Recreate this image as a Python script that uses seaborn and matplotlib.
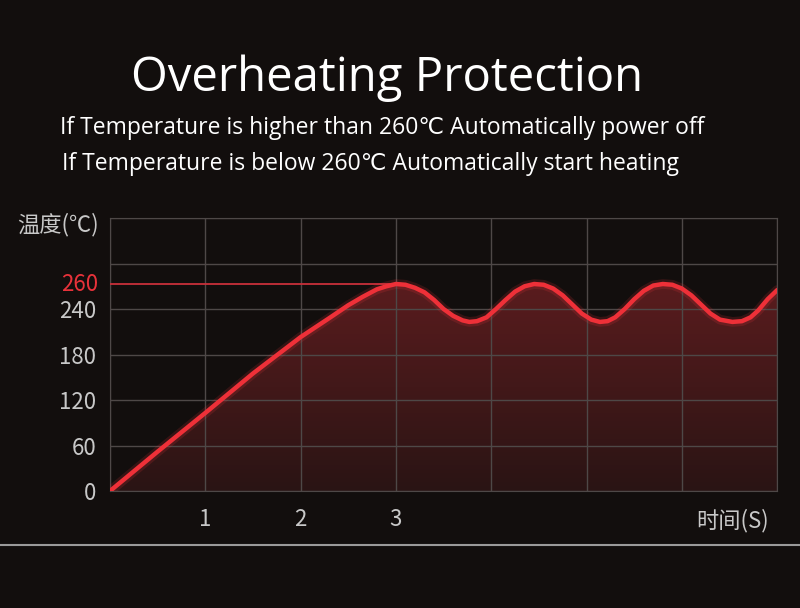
import numpy as np
import pandas as pd
import matplotlib
matplotlib.use("Agg")
import matplotlib.pyplot as plt
import seaborn as sns
from matplotlib.patches import Polygon
from matplotlib.colors import LinearSegmentedColormap

sns.set_style("dark")
plt.rcParams['font.family'] = ['Noto Sans CJK SC', 'DejaVu Sans']

time_s = [0, 0.5, 1, 1.5, 2, 2.3, 2.5, 2.65, 2.8, 2.9, 3.0, 3.1, 3.2, 3.3, 3.4, 3.5, 3.6, 3.7, 3.77, 3.85,
          3.95, 4.05, 4.15, 4.25, 4.35, 4.45, 4.55, 4.65, 4.75, 4.85, 4.95, 5.05, 5.14, 5.22, 5.3, 5.4,
          5.5, 5.6, 5.7, 5.8, 5.9, 6.0, 6.1, 6.2, 6.3, 6.4, 6.53, 6.63, 6.72, 6.8, 6.9, 7.0]
temp = [0, 52, 103, 155, 203, 228, 245, 256, 266, 270, 273, 272, 268, 262, 252, 240, 231, 225, 223, 224,
        229, 240, 252, 263, 270, 273, 272, 267, 258, 246, 234, 226, 223, 224, 229, 240,
        253, 264, 271, 273, 272, 267, 258, 246, 234, 226, 223, 224, 229, 238, 253, 265]
y_ticks = [0, 60, 120, 180, 240]
x_ticks = [1, 2, 3]
limit_pos = 273
limit_label = "260"

df = pd.DataFrame({"t": time_s, "T": temp})
BG = "#120e0d"
fig = plt.figure(figsize=(8, 6.08), dpi=100, facecolor=BG)
ax = fig.add_axes([0.1375, 0.1924, 0.834, 0.449])
ax.set_facecolor(BG)
ax.set_xlim(0, 7)
ax.set_ylim(0, 360)

grad = np.linspace(0, 1, 256).reshape(-1, 1)
cmap = LinearSegmentedColormap.from_list("g", ["#2a1414", "#5a1c1e"])
im = ax.imshow(grad, extent=[0, 7, 0, 275], origin="lower", aspect="auto", cmap=cmap, zorder=1)
poly = Polygon(list(zip(time_s, temp)) + [(7, 0), (0, 0)], closed=True, transform=ax.transData)
im.set_clip_path(poly)

ax.set_xticks([0, 1, 2, 3, 4, 5, 6, 7])
ax.set_yticks(y_ticks + [300, 360])
ax.grid(True, color="#4e4847", lw=1, zorder=2)
ax.set_axisbelow(False)
for s in ax.spines.values():
    s.set_color("#4e4847")
ax.tick_params(length=0)
ax.set_xticklabels(["", "1", "2", "3", "", "", "", ""], color="#c8c8c8", fontsize=16)
ax.set_yticklabels([str(v) for v in y_ticks] + ["", ""], color="#c8c8c8", fontsize=16)
ax.tick_params(axis="x", pad=12)
ax.tick_params(axis="y", pad=10)

ax.plot([0, 3], [limit_pos, limit_pos], color="#c8303a", lw=1.3, zorder=3)
ax.text(-0.12, limit_pos, limit_label, color="#e8323a", fontsize=16, ha="right", va="center")

sns.lineplot(data=df, x="t", y="T", ax=ax, color="#ff3a40", lw=7, alpha=0.15, zorder=4)
sns.lineplot(data=df, x="t", y="T", ax=ax, color="#ee3038", lw=3.2, zorder=5)
ax.set_xlabel("")
ax.set_ylabel("")

fig.text(58 / 800, 1 - 225 / 608, "温度(℃)", color="#c8c8c8", fontsize=16, ha="center", va="center")
fig.text(733 / 800, 1 - 521 / 608, "时间(S)", color="#c8c8c8", fontsize=16, ha="center", va="center")

fig.text(387 / 800, 1 - 78 / 608, "Overheating Protection", color="white", fontsize=34,
         ha="center", va="center", family=["Open Sans", "DejaVu Sans"])
fig.text(60 / 800, 1 - 128 / 608, "If Temperature is higher than 260℃ Automatically power off",
         color="white", fontsize=16.5, ha="left", va="center", family=["Open Sans", "DejaVu Sans"])
fig.text(62 / 800, 1 - 164 / 608, "If Temperature is below 260℃ Automatically start heating",
         color="white", fontsize=16.5, ha="left", va="center", family=["Open Sans", "DejaVu Sans"])

fig.add_artist(plt.Line2D([0, 1], [1 - 545 / 608] * 2, color="#9a9a9a", lw=1.5))
fig.savefig("out.png", dpi=100, facecolor=BG)
